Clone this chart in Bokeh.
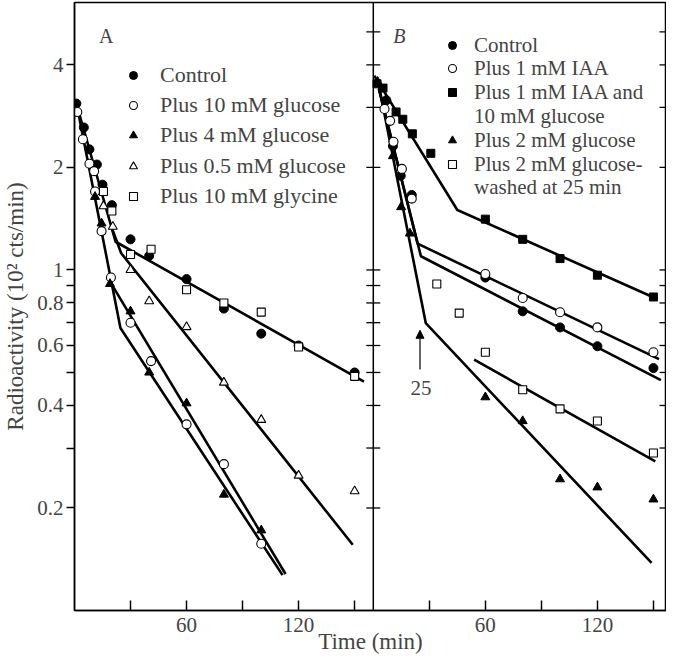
import numpy as np
from bokeh.plotting import figure
from bokeh.models import (Range1d, FixedTicker, Span, Legend, LegendItem,
                          Label, Arrow, NormalHead)
from bokeh.embed import file_html
from bokeh.resources import INLINE

# ---------------- data ----------------
# Panel A (time in min, radioactivity in 10^2 cts/min)
ctrlA_t = [1, 5, 8, 12, 15, 20, 30, 40, 60, 80, 100, 120, 150]
ctrlA_v = [3.08, 2.62, 2.26, 2.04, 1.78, 1.55, 1.23, 1.10, 0.94, 0.77, 0.65, 0.60, 0.50]
glc10A_t = [1.5, 4.5, 8, 10.5, 11, 14.5, 19.5, 30, 41, 60, 80, 100]
glc10A_v = [2.91, 2.42, 2.05, 1.95, 1.70, 1.30, 0.95, 0.70, 0.54, 0.352, 0.269, 0.157]
glc4A_t = [11, 14.5, 19, 30, 40, 60, 80, 100]
glc4A_v = [1.64, 1.37, 0.91, 0.756, 0.50, 0.406, 0.219, 0.172]
glc05A_t = [15.5, 20.5, 30, 40, 60, 80, 100, 120, 150]
glc05A_v = [1.54, 1.34, 1.00, 0.81, 0.68, 0.467, 0.363, 0.249, 0.224]
glyA_t = [15.5, 20, 30, 41, 60, 80, 100, 120, 150]
glyA_v = [1.70, 1.49, 1.11, 1.15, 0.875, 0.80, 0.752, 0.594, 0.487]

# fitted lines, panel A
fitA_ctrl_t = [1, 22, 155]
fitA_ctrl_v = [3.08, 1.21, 0.47]
fitA_05_t = [19.5, 25, 149]
fitA_05_v = [1.35, 1.12, 0.156]
fitA_g1_t = [1.5, 24.6, 111.4]
fitA_g1_v = [3.0, 0.675, 0.127]
fitA_g2_t = [19.5, 113]
fitA_g2_v = [0.915, 0.128]

# Panel B
ctrlB_t = [7, 10.5, 14.7, 20.6, 60, 80, 100, 120, 150]
ctrlB_v = [3.15, 2.31, 1.89, 1.66, 0.95, 0.756, 0.678, 0.597, 0.515]
iaaB_t = [6, 9, 10.8, 15.3, 20.6, 60, 80, 100, 120, 150]
iaaB_v = [2.97, 2.74, 2.38, 1.98, 1.62, 0.973, 0.827, 0.751, 0.678, 0.573]
iaaglcB_t = [2, 5.2, 12.2, 15.8, 20.9, 30.8, 60, 80, 100, 120, 150]
iaaglcB_v = [3.52, 3.42, 2.91, 2.77, 2.51, 2.20, 1.41, 1.23, 1.08, 0.965, 0.833]
glc2B_t = [2.3, 10.5, 14.9, 19.6, 60, 80, 100, 120, 150]
glc2B_v = [3.57, 2.16, 1.53, 1.28, 0.423, 0.360, 0.243, 0.230, 0.212]
washB_t = [34, 46, 60, 80, 100, 120, 150]
washB_v = [0.909, 0.747, 0.573, 0.445, 0.391, 0.360, 0.290]

# fitted lines, panel B
fitB_iaaglc_t = [0.5, 45, 152]
fitB_iaaglc_v = [3.72, 1.50, 0.822]
fitB_iaa_t = [3, 23.7, 153]
fitB_iaa_v = [3.4, 1.195, 0.547]
fitB_ctrl_t = [3, 25.5, 154]
fitB_ctrl_v = [3.4, 1.097, 0.475]
fitB_glc2_t = [3.2, 28.1, 149]
fitB_glc2_v = [3.43, 0.698, 0.138]
fitB_wash_t = [54, 151]
fitB_wash_v = [0.545, 0.274]

wash_time = 25

# legend texts
legA_labels = ["Control", "Plus 10 mM glucose", "Plus 4 mM glucose",
               "Plus 0.5 mM glucose", "Plus 10 mM glycine"]
legB_labels = ["Control", "Plus 1 mM IAA", "Plus 1 mM IAA and", "10 mM glucose",
               "Plus 2 mM glucose", "Plus 2 mM glucose-", "washed at 25 min"]

# axes
A_END = 160
B_END = 157
x_major = [60, 120]
x_minor = [30, 90, 150]
y_major = [0.2, 0.4, 0.6, 0.8, 1, 2, 4]
y_major_labels = ["0.2", "0.4", "0.6", "0.8", "1", "2", "4"]
y_minor = [0.3, 0.5, 0.7, 0.9]
y_inner_ticks = [0.2, 0.3, 0.4, 0.5, 0.6, 0.7, 0.8, 0.9, 1, 2, 3, 4, 5]

FONT = "Liberation Serif"

# ---------------- figure ----------------
p = figure(width=666, height=656, output_backend="svg", toolbar_location=None,
           y_axis_type="log", x_range=Range1d(0, A_END + B_END), y_range=Range1d(0.1, 6.1),
           min_border_left=60, min_border_right=0, min_border_top=2, min_border_bottom=40)
p.extra_x_ranges = {"B": Range1d(-A_END, B_END)}
p.grid.visible = False
p.outline_line_color = "black"
p.outline_line_width = 1.5
p.background_fill_color = "white"

# x axis (ticks of both panels)
xax = p.xaxis[0]
xax.ticker = FixedTicker(ticks=x_major + [A_END + t for t in x_major],
                         minor_ticks=x_minor + [A_END + t for t in x_minor])
xax.major_label_overrides = {A_END + t: str(t) for t in x_major}
xax.major_tick_in = 10
xax.major_tick_out = 0
xax.minor_tick_in = 10
xax.minor_tick_out = 0
xax.minor_tick_line_width = 1.5
xax.axis_line_width = 1.5
xax.major_tick_line_width = 1.5
xax.major_label_text_font = FONT
xax.major_label_text_font_size = "21px"
xax.major_label_standoff = 7
xax.axis_label = "Time (min)"
xax.axis_label_text_font = FONT
xax.axis_label_text_font_size = "23px"
xax.axis_label_text_font_style = "normal"
xax.axis_label_standoff = -6

yax = p.yaxis[0]
yax.ticker = FixedTicker(ticks=y_major, minor_ticks=y_minor)
yax.major_label_overrides = dict(zip(y_major, y_major_labels))
yax.major_tick_in = 0
yax.major_tick_out = 8
yax.minor_tick_in = 0
yax.minor_tick_out = 8
yax.minor_tick_line_width = 1.5
yax.axis_line_width = 1.5
yax.major_tick_line_width = 1.5
yax.major_label_text_font = FONT
yax.major_label_text_font_size = "21px"
yax.major_label_standoff = 3
yax.axis_label = "Radioactivity (10² cts/min)"
yax.axis_label_text_font = FONT
yax.axis_label_text_font_size = "23px"
yax.axis_label_text_font_style = "normal"
yax.axis_label_standoff = 6

# panel divider with ticks on both sides, and inner ticks at the right edge
p.add_layout(Span(location=A_END, dimension="height", line_color="black", line_width=1.5))
p.scatter(x=[A_END] * len(y_inner_ticks), y=y_inner_ticks, marker="dash", size=14,
          line_color="black", line_width=1.3)
p.scatter(x=[A_END + B_END] * len(y_inner_ticks), y=y_inner_ticks, marker="dash", size=14,
          line_color="black", line_width=1.3)

LW = 2.6
# fitted lines
for tt, vv in [(fitA_ctrl_t, fitA_ctrl_v), (fitA_05_t, fitA_05_v),
               (fitA_g1_t, fitA_g1_v), (fitA_g2_t, fitA_g2_v)]:
    p.line(tt, vv, line_color="black", line_width=LW)
for tt, vv in [(fitB_iaaglc_t, fitB_iaaglc_v), (fitB_iaa_t, fitB_iaa_v),
               (fitB_ctrl_t, fitB_ctrl_v), (fitB_glc2_t, fitB_glc2_v),
               (fitB_wash_t, fitB_wash_v)]:
    p.line(tt, vv, line_color="black", line_width=LW, x_range_name="B")

def filled(t, v, marker, size, rng="default"):
    return p.scatter(t, v, marker=marker, size=size, fill_color="black",
                     line_color="black", line_width=1, x_range_name=rng)

def hollow(t, v, marker, size, rng="default"):
    return p.scatter(t, v, marker=marker, size=size, fill_color="white",
                     line_color="black", line_width=1.1, x_range_name=rng)

rA = [filled(ctrlA_t, ctrlA_v, "circle", 9),
      hollow(glc10A_t, glc10A_v, "circle", 9),
      filled(glc4A_t, glc4A_v, "triangle", 9),
      hollow(glc05A_t, glc05A_v, "triangle", 9),
      hollow(glyA_t, glyA_v, "square", 8)]

blank = p.scatter(x=[], y=[], marker="circle", size=1, fill_alpha=0, line_alpha=0)
rB = [filled(ctrlB_t, ctrlB_v, "circle", 9, "B"),
      hollow(iaaB_t, iaaB_v, "circle", 9, "B"),
      filled(iaaglcB_t, iaaglcB_v, "square", 8, "B"),
      blank,
      filled(glc2B_t, glc2B_v, "triangle", 9, "B"),
      hollow(washB_t, washB_v, "square", 8, "B"),
      blank]

# one legend row per entry, so the row pitch follows the picture
rowsA_y = [520, 490, 460, 429, 399]
rowsB_y = [550, 527, 503, 479, 455, 431, 408]

def legend_row(label, renderer, x, y, standoff, size):
    lg = Legend(items=[LegendItem(label=label, renderers=[renderer])],
                location=(x, y), padding=0, margin=0, spacing=0,
                glyph_width=20, glyph_height=30, label_height=30, label_standoff=standoff,
                label_text_font=FONT, label_text_font_size=size,
                background_fill_alpha=0, border_line_alpha=0)
    p.add_layout(lg)

for lab, r, y in zip(legA_labels, rA, rowsA_y):
    legend_row(lab, r, 49, y, 17, "22px")
for lab, r, y in zip(legB_labels, rB, rowsB_y):
    legend_row(lab, r, 368, y, 12, "21px")

p.add_layout(Label(x=17, y=4.85, text="A", text_font=FONT, text_font_size="20px",
                   text_align="center", text_baseline="middle"))
p.add_layout(Label(x=14, y=4.85, x_range_name="B", text="B", text_font=FONT,
                   text_font_size="20px", text_font_style="italic",
                   text_align="center", text_baseline="middle"))

p.add_layout(Arrow(x_start=wash_time, y_start=0.51, x_end=wash_time, y_end=0.665,
                   x_range_name="B", line_width=1.2, line_color="black",
                   end=NormalHead(size=8, fill_color="black", line_color="black")))
p.add_layout(Label(x=wash_time + 0.5, y=0.45, x_range_name="B", text=str(wash_time),
                   text_font=FONT, text_font_size="21px",
                   text_align="center", text_baseline="middle"))

open("out.html", "w").write(file_html(p, INLINE))
